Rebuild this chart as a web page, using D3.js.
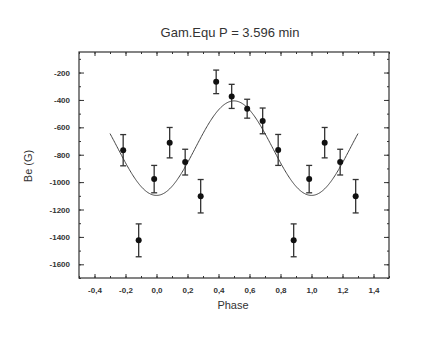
<!DOCTYPE html>
<html><head><meta charset="utf-8">
<script src="https://cdn.jsdelivr.net/npm/d3@7/dist/d3.min.js"></script>
<style>body{margin:0;background:#fff}svg{display:block}</style>
</head><body>
<script>
// Data
const phases = [-0.215, -0.115, -0.015, 0.085, 0.185, 0.285, 0.385, 0.485, 0.585, 0.685, 0.785, 0.885, 0.985, 1.085, 1.185, 1.285];
const beValues = [-767, -1425, -978, -712, -854, -1103, -268, -374, -464, -553, -765, -1425, -978, -712, -854, -1103];
const beErrors = [114, 120, 100, 111, 94, 122, 86, 88, 69, 94, 113, 120, 100, 111, 94, 122];
// Sinusoidal fit: Be = fitMean - fitAmp * cos(2*pi*phase)
const fitMean = -752;
const fitAmp = 345;
const fitRange = [-0.3, 1.3];
const xTicks = [-0.4, -0.2, 0.0, 0.2, 0.4, 0.6, 0.8, 1.0, 1.2, 1.4];
const yTicks = [-200, -400, -600, -800, -1000, -1200, -1400, -1600];
const title = "Gam.Equ P = 3.596 min";

const W = 435, H = 338;
const m = {l: 79, r: 46, t: 52, b: 60};
const svg = d3.select("body").append("svg").attr("width", W).attr("height", H);
const x = d3.scaleLinear().domain([-0.5, 1.5]).range([m.l, W - m.r]);
const y = d3.scaleLinear().domain([-1700, -50]).range([H - m.b, m.t]);
const fmt = d => d3.format(".1f")(d).replace(".", ",").replace("−", "-");

const minorX = d3.range(-0.5, 1.51, 0.1).map(v => +v.toFixed(2));
const minorY = d3.range(-1700, -49, 100);

const axisStyle = g => {
  g.select(".domain").remove();
  g.selectAll("line").attr("stroke", "#333").attr("stroke-width", 1);
  g.selectAll("text").attr("font-family", "Liberation Sans, Arial, sans-serif")
    .attr("font-size", 8).attr("font-weight", "bold").attr("fill", "#333");
};
// bottom
svg.append("g").attr("transform", `translate(0,${H - m.b})`)
  .call(d3.axisBottom(x).tickValues(minorX).tickSize(-2).tickFormat(""))
  .call(axisStyle);
svg.append("g").attr("transform", `translate(0,${H - m.b})`)
  .call(d3.axisBottom(x).tickValues(xTicks).tickSize(-4).tickPadding(9).tickFormat(fmt))
  .call(axisStyle);
// top
svg.append("g").attr("transform", `translate(0,${m.t})`)
  .call(d3.axisTop(x).tickValues(minorX).tickSize(-2).tickFormat("")).call(axisStyle);
svg.append("g").attr("transform", `translate(0,${m.t})`)
  .call(d3.axisTop(x).tickValues(xTicks).tickSize(-4).tickFormat("")).call(axisStyle);
// left
svg.append("g").attr("transform", `translate(${m.l},0)`)
  .call(d3.axisLeft(y).tickValues(minorY).tickSize(-2).tickFormat("")).call(axisStyle);
svg.append("g").attr("transform", `translate(${m.l},0)`)
  .call(d3.axisLeft(y).tickValues(yTicks).tickSize(-5).tickPadding(9).tickFormat(d => String(d)))
  .call(axisStyle);
// right
svg.append("g").attr("transform", `translate(${W - m.r},0)`)
  .call(d3.axisRight(y).tickValues(minorY).tickSize(-2).tickFormat("")).call(axisStyle);
svg.append("g").attr("transform", `translate(${W - m.r},0)`)
  .call(d3.axisRight(y).tickValues(yTicks).tickSize(-5).tickFormat("")).call(axisStyle);

// frame
svg.append("rect").attr("x", m.l).attr("y", m.t)
  .attr("width", W - m.l - m.r).attr("height", H - m.t - m.b)
  .attr("fill", "none").attr("stroke", "#333").attr("stroke-width", 1.2);

// fit curve
const fitPts = d3.range(fitRange[0], fitRange[1] + 1e-9, 0.005)
  .map(p => [p, fitMean - fitAmp * Math.cos(2 * Math.PI * p)]);
svg.append("path").datum(fitPts)
  .attr("d", d3.line().x(d => x(d[0])).y(d => y(d[1])))
  .attr("fill", "none").attr("stroke", "#444").attr("stroke-width", 1);

// error bars
const data = phases.map((p, i) => ({p, v: beValues[i], e: beErrors[i]}));
const eb = svg.append("g").attr("stroke", "#333").attr("stroke-width", 1.3);
data.forEach(d => {
  eb.append("line").attr("x1", x(d.p)).attr("x2", x(d.p)).attr("y1", y(d.v - d.e)).attr("y2", y(d.v + d.e));
  eb.append("line").attr("x1", x(d.p) - 3).attr("x2", x(d.p) + 3).attr("y1", y(d.v - d.e)).attr("y2", y(d.v - d.e));
  eb.append("line").attr("x1", x(d.p) - 3).attr("x2", x(d.p) + 3).attr("y1", y(d.v + d.e)).attr("y2", y(d.v + d.e));
});
svg.append("g").selectAll("circle").data(data).join("circle")
  .attr("cx", d => x(d.p)).attr("cy", d => y(d.v)).attr("r", 3).attr("fill", "#111");

// titles
svg.append("text").attr("x", 230).attr("y", 37).attr("text-anchor", "middle")
  .attr("font-family", "Liberation Sans, Arial, sans-serif").attr("font-size", 13).attr("fill", "#333")
  .text(title);
svg.append("text").attr("x", 233).attr("y", 309).attr("text-anchor", "middle")
  .attr("font-family", "Liberation Sans, Arial, sans-serif").attr("font-size", 11).attr("fill", "#333")
  .text("Phase");
svg.append("text").attr("transform", "translate(32,166) rotate(-90)").attr("text-anchor", "middle")
  .attr("font-family", "Liberation Sans, Arial, sans-serif").attr("font-size", 11).attr("fill", "#333")
  .text("Be (G)");
</script>
</body></html>
